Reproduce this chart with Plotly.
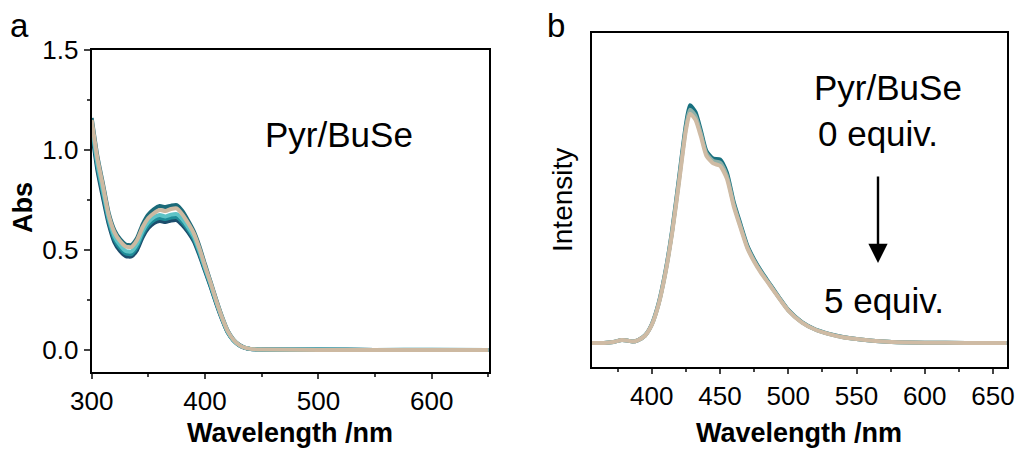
import plotly.graph_objects as go

# ---------------- data ----------------
wl_abs = [300, 305, 310, 315, 320, 325, 330, 335, 340, 345, 350, 355, 360, 365, 370,
          375, 380, 385, 390, 395, 400, 405, 410, 415, 420, 425, 430, 435, 440, 450,
          500, 550, 600, 650]
abs_outline = [1.16, 0.97, 0.83, 0.685, 0.60, 0.555, 0.528, 0.525, 0.56, 0.63, 0.678, 0.705,
               0.72, 0.715, 0.722, 0.725, 0.695, 0.648, 0.595, 0.52, 0.428, 0.34, 0.25, 0.167,
               0.097, 0.053, 0.027, 0.012, 0.006, 0.003, 0.002, 0.001, 0.001, 0.0]
abs_navy = [1.10, 0.90, 0.76, 0.63, 0.54, 0.495, 0.47, 0.468, 0.50, 0.565, 0.61, 0.635,
            0.645, 0.64, 0.648, 0.65, 0.625, 0.59, 0.545, 0.475, 0.395, 0.315, 0.23, 0.153,
            0.088, 0.048, 0.024, 0.011, 0.005, 0.003, 0.002, 0.001, 0.001, 0.0]
abs_teal = [1.12, 0.92, 0.78, 0.645, 0.555, 0.51, 0.483, 0.48, 0.515, 0.58, 0.625, 0.65,
            0.66, 0.655, 0.663, 0.665, 0.64, 0.602, 0.556, 0.485, 0.402, 0.32, 0.235, 0.157,
            0.09, 0.049, 0.025, 0.011, 0.006, 0.003, 0.003, 0.001, 0.002, 0.0]
abs_cyan = [1.13, 0.935, 0.795, 0.66, 0.57, 0.525, 0.495, 0.493, 0.53, 0.595, 0.64, 0.665,
            0.675, 0.668, 0.677, 0.68, 0.655, 0.615, 0.568, 0.495, 0.41, 0.328, 0.24, 0.16,
            0.092, 0.05, 0.025, 0.012, 0.006, 0.003, 0.002, 0.001, 0.001, 0.0]
abs_beige = [1.15, 0.96, 0.82, 0.675, 0.59, 0.545, 0.518, 0.515, 0.55, 0.615, 0.66, 0.685,
             0.70, 0.695, 0.705, 0.708, 0.678, 0.635, 0.585, 0.51, 0.42, 0.335, 0.245, 0.163,
             0.095, 0.052, 0.026, 0.012, 0.006, 0.003, 0.001, 0.0, 0.0, 0.0]

wl_em = [356, 365, 372, 378, 382, 386, 390, 395, 400, 405, 410, 415, 420, 425, 428, 432,
         436, 440, 445, 450, 455, 460, 465, 470, 475, 480, 485, 490, 495, 500, 510, 520,
         530, 540, 550, 560, 570, 580, 600, 630, 660]
em_0eq = [0.0, 0.0, 0.004, 0.012, 0.01, 0.006, 0.012, 0.031, 0.078, 0.165, 0.298, 0.472,
          0.69, 0.91, 0.99, 0.962, 0.885, 0.8, 0.768, 0.765, 0.71, 0.588, 0.495, 0.406,
          0.348, 0.3, 0.258, 0.217, 0.176, 0.138, 0.087, 0.056, 0.038, 0.025, 0.016, 0.01,
          0.006, 0.003, 0.001, 0.0, 0.0]
em_mid = [0.0, 0.0, 0.004, 0.012, 0.01, 0.006, 0.012, 0.03, 0.076, 0.162, 0.294, 0.466,
          0.68, 0.897, 0.972, 0.946, 0.872, 0.79, 0.758, 0.751, 0.697, 0.579, 0.487, 0.4,
          0.343, 0.296, 0.255, 0.214, 0.174, 0.136, 0.086, 0.055, 0.037, 0.024, 0.016, 0.01,
          0.006, 0.003, 0.001, 0.0, 0.0]
em_5eq = [0.0, 0.0, 0.004, 0.012, 0.01, 0.006, 0.012, 0.03, 0.075, 0.16, 0.29, 0.46,
          0.67, 0.885, 0.955, 0.93, 0.86, 0.78, 0.748, 0.738, 0.685, 0.57, 0.48, 0.395,
          0.338, 0.292, 0.252, 0.212, 0.172, 0.135, 0.085, 0.055, 0.037, 0.024, 0.016, 0.01,
          0.006, 0.003, 0.001, 0.0, 0.0]

abs_series = [abs_outline, abs_navy, abs_teal, abs_cyan, abs_beige]
abs_colors = ["#1b6a79", "#1d4d6c", "#1f8c98", "#5ec3c6", "#cdb9a1"]
em_series = [em_0eq, em_mid, em_5eq]
em_colors = ["#17707f", "#8fb0a8", "#cfbba4"]

FONT = "Liberation Sans, Arial, sans-serif"
W, H = 1022, 452

fig = go.Figure()
for ys, c in zip(abs_series, abs_colors):
    fig.add_trace(go.Scatter(x=wl_abs, y=ys, mode="lines", xaxis="x", yaxis="y",
                             line=dict(color=c, width=4, shape="spline", smoothing=0.6),
                             showlegend=False, hoverinfo="skip"))
for ys, c in zip(em_series, em_colors):
    fig.add_trace(go.Scatter(x=wl_em, y=ys, mode="lines", xaxis="x2", yaxis="y2",
                             line=dict(color=c, width=4, shape="spline", smoothing=0.6),
                             showlegend=False, hoverinfo="skip"))

axis_common = dict(showline=True, linecolor="black", linewidth=2, mirror=True,
                   showgrid=False, zeroline=False, automargin=False,
                   tickfont=dict(family=FONT, size=26, color="black"))

fig.update_layout(
    width=W, height=H, margin=dict(l=0, r=0, t=0, b=0),
    paper_bgcolor="white", plot_bgcolor="white",
    xaxis=dict(domain=[91.7 / W, 489 / W], range=[300, 650.5], anchor="y",
               tick0=300, dtick=100, ticks="outside", ticklen=5, tickwidth=2,
               minor=dict(dtick=50, tick0=300, ticks="outside", ticklen=3, tickwidth=2),
               **axis_common),
    yaxis=dict(domain=[1 - 371.7 / H, 1 - 50 / H], range=[-0.108, 1.5], anchor="x",
               tick0=0, dtick=0.5, tickformat=".1f", ticks="outside", ticklen=6, tickwidth=2,
               minor=dict(dtick=0.25, tick0=0, ticks="outside", ticklen=3, tickwidth=2),
               **axis_common),
    xaxis2=dict(domain=[591.7 / W, 1006.7 / W], range=[356, 660], anchor="y2",
                tick0=400, dtick=50, ticks="outside", ticklen=5, tickwidth=2,
                minor=dict(dtick=25, tick0=400, ticks="outside", ticklen=3, tickwidth=2),
                **axis_common),
    yaxis2=dict(domain=[1 - 366.7 / H, 1 - 33.3 / H], range=[-0.099, 1.29], anchor="x2",
                showticklabels=False, ticks="", **axis_common),
)


def px_ann(text, x, y, size, bold=False, angle=0):
    fig.add_annotation(text=f"<b>{text}</b>" if bold else text,
                       x=x / W, y=1 - y / H, xref="paper", yref="paper",
                       xanchor="center", yanchor="middle", showarrow=False,
                       textangle=angle,
                       font=dict(family=FONT, size=size, color="black"))


px_ann("a", 19.5, 26, 33)
px_ann("b", 556, 26, 33)
px_ann("Pyr/BuSe", 339, 135, 35)
px_ann("Pyr/BuSe", 888, 88, 35)
px_ann("0 equiv.", 878, 133, 35)
px_ann("5 equiv.", 884, 300, 35)
px_ann("Wavelength /nm", 290, 433, 27, bold=True)
px_ann("Wavelength /nm", 799, 433, 27, bold=True)
px_ann("Abs", 23, 208, 27, bold=True, angle=-90)
px_ann("Intensity", 562, 200, 28, angle=-90)

# arrow (0 -> 5 equiv.)
fig.add_annotation(x=878 / W, y=1 - 263 / H, xref="paper", yref="paper",
                   ax=0, ay=-88, axref="pixel", ayref="pixel", text="",
                   showarrow=True, arrowhead=2, arrowsize=1.6, arrowwidth=2.4,
                   arrowcolor="black")

fig.write_html("out.html")
